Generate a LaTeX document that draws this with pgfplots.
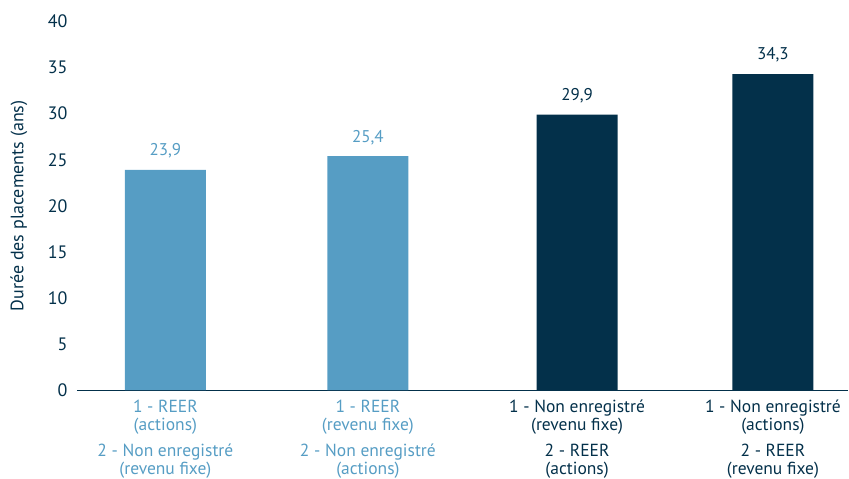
\documentclass[border=0pt]{standalone}
\usepackage{pgfplots}
\pgfplotsset{compat=1.18}
\usepackage{fontspec}
\setmainfont{PT Sans}
\definecolor{lblue}{HTML}{569DC4}
\definecolor{navy}{HTML}{03304A}
\begin{document}
\begin{tikzpicture}
\begin{axis}[
  scale only axis,
  width=772pt, height=369pt,
  xmin=-0.4367, xmax=3.3725,
  ymin=0, ymax=40,
  ytick={0,5,...,40},
  xtick={0,1,2.033,3},
  xticklabels={
    {\textcolor{lblue}{1 - REER}\\\textcolor{lblue}{(actions)}\\[8pt]\textcolor{lblue}{2 - Non enregistré}\\\textcolor{lblue}{(revenu fixe)}},
    {\textcolor{lblue}{1 - REER}\\\textcolor{lblue}{(revenu fixe)}\\[8pt]\textcolor{lblue}{2 - Non enregistré}\\\textcolor{lblue}{(actions)}},
    {1 - Non enregistré\\(revenu fixe)\\[8pt]2 - REER\\(actions)},
    {1 - Non enregistré\\(actions)\\[8pt]2 - REER\\(revenu fixe)}},
  x tick label style={align=center, font=\fontsize{17.5}{18}\selectfont, text=navy, inner sep=0pt, yshift=-10pt},
  y tick label style={font=\fontsize{18}{18}\selectfont, text=navy, xshift=-6pt},
  /pgf/number format/assume math mode=true,
  axis x line=bottom, axis y line=left,
  y axis line style={draw=none},
  x axis line style={-, draw=navy, line width=1.3pt},
  major tick length=0pt,
  ylabel={Durée des placements (ans)},
  ylabel style={font=\fontsize{18}{18}\selectfont, text=navy, at={(axis description cs:-0.0751,0.5)}, anchor=center},
  ybar, bar width=81pt,
  bar shift=0pt,
  nodes near coords={\pgfmathprintnumber[fixed, fixed zerofill, precision=1, use comma, assume math mode=true]{\pgfplotspointmeta}},
  nodes near coords style={font=\fontsize{17}{17}\selectfont, yshift=8pt},
  clip=false,
]
\addplot[fill=lblue, draw=none, nodes near coords style={text=lblue}] coordinates {(0,23.9) (1,25.4)};
\addplot[fill=navy, draw=none, nodes near coords style={text=navy}] coordinates {(2.033,29.9) (3,34.3)};
\end{axis}
\useasboundingbox ([shift={(-77pt,-88.5pt)}]current axis.south west) rectangle ([shift={(0pt,21.5pt)}]current axis.north east);
\end{tikzpicture}
\end{document}
